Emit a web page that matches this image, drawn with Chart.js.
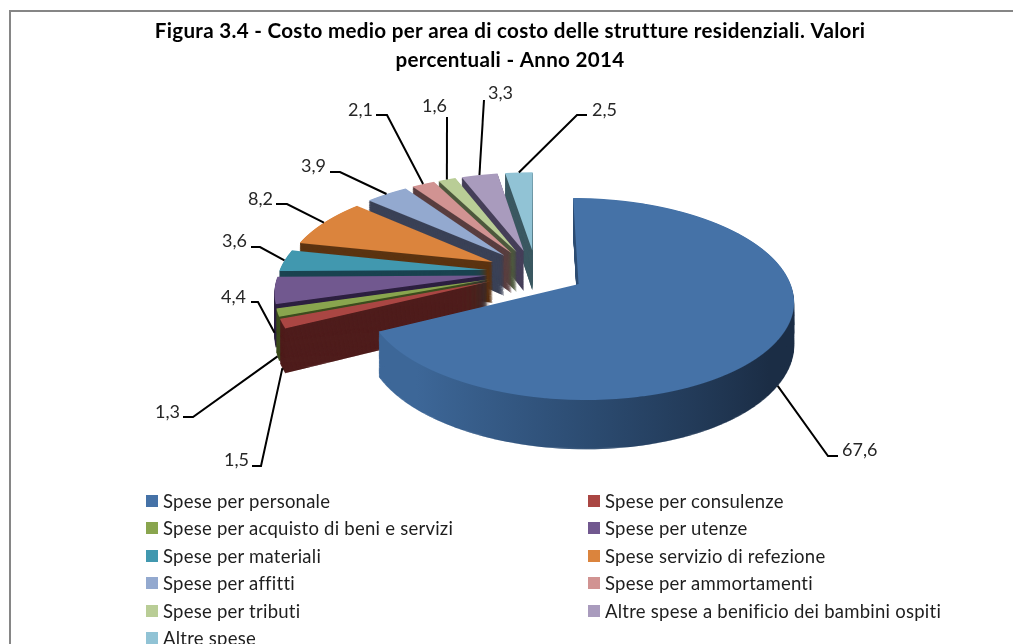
<!DOCTYPE html>
<html>
<head>
<meta charset="utf-8">
<title>Figura 3.4</title>
<script src="https://cdn.jsdelivr.net/npm/chart.js@4"></script>
<style>
    html, body { margin: 0; background: #fff; overflow: hidden; width: 1013px; height: 644px; }
    #grafico { position: absolute; left: 0; top: 0; }
    #cornice { position: absolute; left: 9px; top: 10px; width: 1100px; height: 700px;
               border-left: 2px solid #868686; border-top: 2px solid #868686; }
    #legenda { position: absolute; left: 146px; top: 487px; width: 860px;
               display: grid; grid-template-columns: 442px 1fr; grid-auto-rows: 27.5px;
               font: 18.5px Lato, sans-serif; letter-spacing: 0.24px; color: #1e1e1e; }
    #legenda div { display: flex; align-items: center; white-space: nowrap; }
    #legenda i { width: 12px; height: 12px; margin-right: 5px; flex: none; }
</style>
</head>
<body>
<div id="cornice"></div>
<canvas id="grafico" width="1013" height="644"></canvas>
<div id="legenda"></div>
<script>
const categorie = [
    'Spese per personale', 'Spese per consulenze', 'Spese per acquisto di beni e servizi',
    'Spese per utenze', 'Spese per materiali', 'Spese servizio di refezione',
    'Spese per affitti', 'Spese per ammortamenti', 'Spese per tributi',
    'Altre spese a benificio dei bambini ospiti', 'Altre spese'
];
const valori = [67.6, 1.5, 1.3, 4.4, 3.6, 8.2, 3.9, 2.1, 1.6, 3.3, 2.5];
const titolo = [
    'Figura 3.4 - Costo medio per area di costo delle strutture residenziali. Valori',
    'percentuali - Anno 2014'
];

const colori = ['#4572A7', '#AA4643', '#89A54E', '#71588F', '#4198AF', '#DB843D',
                '#93A9CF', '#D19392', '#B9CD96', '#A99BBD', '#91C3D5'];
const coloriLato = ['#1b2d45', '#4f1d1c', '#3d4d1f', '#2d2040', '#1a4350', '#5c3412',
                    '#3b4257', '#5a3f40', '#4f5a3f', '#47405a', '#3d5a63'];

// testo x, testo y, gomito x, gomito y, fine coda x
const etichette = [
    [842, 450, 828, 456, 838], [224, 460, 261, 466, 252], [155, 412, 193, 417, 183],
    [221, 297, 258, 302, 251], [222, 241, 260, 247, 251], [248, 199, 287, 204, 276],
    [301, 166, 340, 172, 330], [348, 110, 387, 115, 376], [422, 106, 447, 117, 447],
    [488, 93, 484, 100, 484], [592, 110, 577, 115, 587]
];

// prospettiva della torta: il piano viene riportato sullo schermo riga per riga
const raggio = 212, esplosione = 50, altezza = 42;
const xCentro = 536, yVertice = 284, vVertice = 26, schiaccia = 0.466, distanza = 1440;

function tDaRiga(y) {
    const g = y - yVertice;
    return g / (schiaccia + g / distanza);
}
function scalaDaT(t) { return 1 / (1 - t / distanza); }
function proietta(u, v) {
    const t = v - vVertice, w = scalaDaT(t);
    return [xCentro + u * w, yVertice + schiaccia * t * w, w];
}

function righeArco(arc) {
    const mid = (arc.startAngle + arc.endAngle) / 2;
    const oy = Math.sin(mid) * esplosione;
    let min = oy, max = oy;
    for (let i = 0; i <= 60; i++) {
        const a = arc.startAngle + (arc.endAngle - arc.startAngle) * i / 60;
        const v = oy + Math.sin(a) * arc.outerRadius;
        min = Math.min(min, v);
        max = Math.max(max, v);
    }
    return [Math.floor(proietta(0, min)[1]) - 1, Math.ceil(proietta(0, max)[1]) + 1];
}

function disegnaFetta(ctx, arc, colore, strato) {
    const copia = Object.create(arc);
    copia.options = Object.assign({}, arc.options, { backgroundColor: colore });
    const mid = (arc.startAngle + arc.endAngle) / 2;
    const ox = Math.cos(mid) * esplosione, oy = Math.sin(mid) * esplosione;
    const [da, a] = righeArco(arc);
    for (let y = da; y <= a; y++) {
        const t0 = tDaRiga(y), t1 = tDaRiga(y + 1), tm = tDaRiga(y + 0.5);
        const w = scalaDaT(tm), m = 1 / (t1 - t0);
        const sposta = strato * w;
        ctx.save();
        ctx.beginPath();
        // i lati si sovrappongono un poco, la faccia sopra resta sui pixel interi
        ctx.rect(0, y + sposta, ctx.canvas.width, strato ? 1.5 : 1);
        ctx.clip();
        ctx.setTransform(w, 0, 0, m, xCentro - arc.x * w,
            y + 0.5 + sposta - (arc.y + vVertice + tm) * m);
        ctx.translate(ox, oy);
        copia.draw(ctx);
        ctx.restore();
    }
}

const torta3d = {
    id: 'torta3d',
    beforeDraw(chart) {
        chart.ctx.letterSpacing = '0.3px';
    },
    beforeDatasetDraw(chart) {
        const ctx = chart.ctx;
        const archi = chart.getDatasetMeta(0).data;
        for (let i = archi.length - 1; i >= 0; i--) {
            const arc = archi[i];
            let lato = coloriLato[i];
            if (i === 0) {
                lato = ctx.createLinearGradient(arc.x - 150, 0, arc.x + 170, 0);
                lato.addColorStop(0, '#3d6798');
                lato.addColorStop(0.5, '#2b4a6f');
                lato.addColorStop(1, coloriLato[0]);
            }
            for (let d = altezza; d >= 1; d--) disegnaFetta(ctx, arc, lato, d);
            disegnaFetta(ctx, arc, colori[i], 0);
        }
        return false;
    },
    afterDraw(chart) {
        const ctx = chart.ctx;
        ctx.save();
        ctx.letterSpacing = '0px';
        ctx.strokeStyle = '#000';
        ctx.lineWidth = 2;
        ctx.fillStyle = '#262626';
        ctx.font = '18px Lato, sans-serif';
        ctx.textBaseline = 'middle';
        chart.getDatasetMeta(0).data.forEach(function (arc, i) {
            const mid = (arc.startAngle + arc.endAngle) / 2;
            const r = raggio + esplosione;
            const p = proietta(Math.cos(mid) * r, Math.sin(mid) * r);
            const y = Math.sin(mid) > 0 ? p[1] + altezza * p[2] : p[1];
            const e = etichette[i];
            ctx.beginPath();
            ctx.moveTo(p[0], y);
            ctx.lineTo(e[2], e[3]);
            ctx.lineTo(e[4], e[3]);
            ctx.stroke();
            ctx.fillText(valori[i].toFixed(1).replace('.', ','), e[0], e[1]);
        });
        ctx.restore();
    }
};

new Chart(document.getElementById('grafico'), {
    type: 'pie',
    data: {
        labels: categorie,
        datasets: [{ data: valori, backgroundColor: colori, borderWidth: 0 }]
    },
    options: {
        responsive: false,
        animation: false,
        events: [],
        radius: raggio,
        layout: { padding: { left: 7 } },
        plugins: {
            legend: { display: false },
            tooltip: { enabled: false },
            title: {
                display: true,
                text: titolo,
                color: '#000',
                padding: { top: 17, bottom: 10 },
                font: { family: 'Lato', size: 20.6, weight: 'bold', lineHeight: 1.41 }
            }
        }
    },
    plugins: [torta3d]
});

let html = '';
categorie.forEach(function (nome, i) {
    html += '<div><i style="background:' + colori[i] + '"></i>' + nome + '</div>';
});
document.getElementById('legenda').innerHTML = html;
</script>
</body>
</html>
